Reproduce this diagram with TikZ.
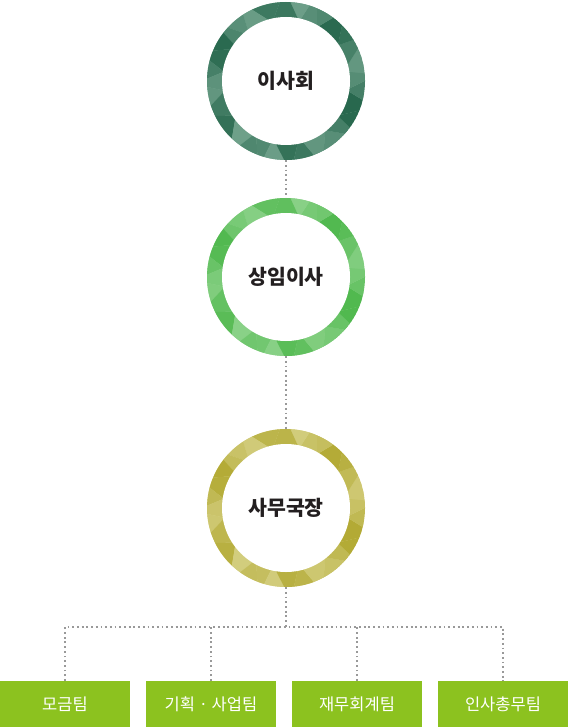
\documentclass[tikz,border=0pt]{standalone}
\usepackage{fontspec}
\newfontfamily\kr{Noto Sans CJK KR}
\usetikzlibrary{calc}
\definecolor{gA1}{HTML}{1B5E43}
\definecolor{gB1}{HTML}{7FAD98}
\definecolor{gA2}{HTML}{46B444}
\definecolor{gB2}{HTML}{97D795}
\definecolor{gA3}{HTML}{ADA428}
\definecolor{gB3}{HTML}{DAD58E}
\definecolor{boxgreen}{HTML}{8CC21F}
\definecolor{dotgray}{HTML}{999999}
\definecolor{txt}{HTML}{231F20}
\tikzset{
  dotline/.style={draw=dotgray, line width=1.8pt, dash pattern=on 1.8pt off 2.9pt},
  ringnode/.style={circle, minimum size=158pt, inner sep=0pt, text=txt, font=\kr\bfseries\fontsize{20.5}{24}\selectfont},
  teambox/.style={rectangle, fill=boxgreen, minimum width=130pt, minimum height=46pt, inner sep=0pt, text=white, font=\kr\fontsize{16.5}{19}\selectfont}
}
\newcommand{\facetring}[3]{%
  \begin{scope}
    \clip (#1) circle (79pt);
    \fill[#3] (#1) circle (79pt);
    \foreach \i in {0,...,15}{
      \pgfmathsetmacro\aa{\i*22.5+mod(\i*7,9)}
      \pgfmathsetmacro\ab{(\i+1)*22.5+mod((\i+1)*7,9)}
      \pgfmathsetmacro\ia{\i*22.5+9+mod(\i*11,8)}
      \pgfmathsetmacro\ib{(\i+1)*22.5+9+mod((\i+1)*11,8)}
      \pgfmathsetmacro\ra{58+mod(\i*5,6)}
      \pgfmathsetmacro\rb{58+mod((\i+1)*5,6)}
      \pgfmathtruncatemacro\pa{mod(\i*47+13,75)+15}
      \pgfmathtruncatemacro\pb{mod(\i*29+41,75)+15}
      \fill[#2!\pa!#3] ($(#1)+(\aa:92pt)$) -- ($(#1)+(\ab:92pt)$) -- ($(#1)+(\ia:\ra pt)$) -- cycle;
      \fill[#2!\pb!#3] ($(#1)+(\ia:\ra pt)$) -- ($(#1)+(\ib:\rb pt)$) -- ($(#1)+(\ab:92pt)$) -- cycle;
    }
  \end{scope}
  \fill[white] (#1) circle (64pt);
}
\begin{document}
\begin{tikzpicture}[x=1pt,y=-1pt]
\useasboundingbox (0,0) rectangle (568,727);
\coordinate (c1) at (286,81);
\coordinate (c2) at (286,277);
\coordinate (c3) at (286,508);
\facetring{c1}{gA1}{gB1}
\facetring{c2}{gA2}{gB2}
\facetring{c3}{gA3}{gB3}
\node[ringnode] (n1) at (c1) {이사회};
\node[ringnode] (n2) at (c2) {상임이사};
\node[ringnode] (n3) at (c3) {사무국장};
\node[teambox] (b1) at (65,704) {모금팀};
\node[teambox] (b2) at (211,704) {기획 · 사업팀};
\node[teambox] (b3) at (357,704) {재무회계팀};
\node[teambox] (b4) at (503,704) {인사총무팀};
\coordinate (j) at (286,627);
\draw[dotline] (n1.south) -- (n2.north);
\draw[dotline] (n2.south) -- (n3.north);
\draw[dotline] (n3.south) -- (j);
\draw[dotline] (b1.north) |- (b4.north |- j) -- (b4.north);
\draw[dotline] (b2.north) -- (b2.north |- j);
\draw[dotline] (b3.north) -- (b3.north |- j);
\end{tikzpicture}
\end{document}
